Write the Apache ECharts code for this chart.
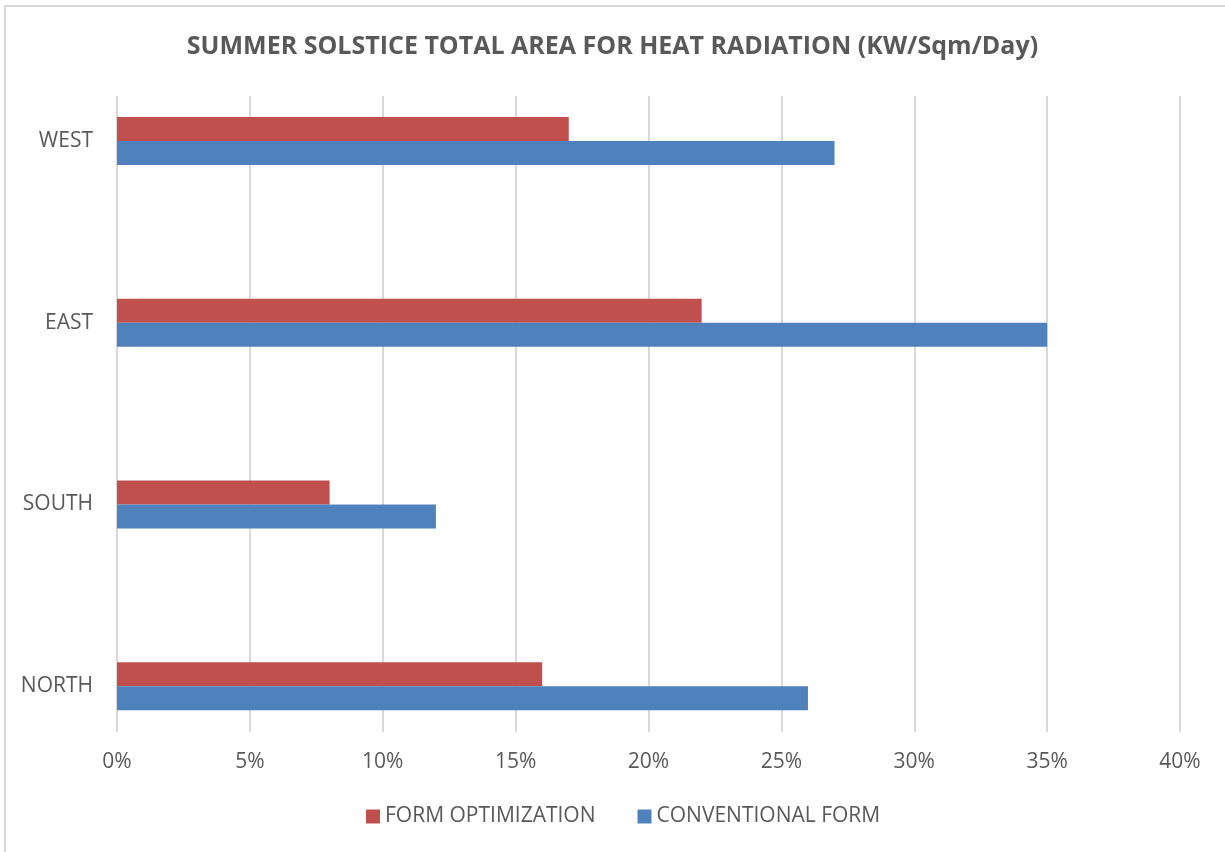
<!DOCTYPE html>
<html>
<head>
<meta charset="utf-8">
<script src="https://cdn.jsdelivr.net/npm/echarts@6/dist/echarts.min.js"></script>
<style>
  html, body { margin: 0; padding: 0; background: #fff; }
  #chart { width: 1225px; height: 852px; }
</style>
</head>
<body>
<div id="chart"></div>
<script>
// categories from bottom to top
const regions = ["NORTH", "SOUTH", "EAST", "WEST"];
const formOptimization = [16, 8, 22, 17];
const conventionalForm = [26, 12, 35, 27];
const tickMax = 40;
const tickStep = 5;

const textColor = "#595959";
const font = "Open Sans";

const myChart = echarts.init(document.getElementById("chart"));
const option = {
    animation: false,
    title: {
        text: "SUMMER SOLSTICE TOTAL AREA FOR HEAT RADIATION (KW/Sqm/Day)",
        left: "center",
        top: 29,
        textStyle: {
            fontFamily: font,
            fontWeight: "bold",
            fontSize: 25,
            color: textColor
        }
    },
    graphic: [{
        type: "rect",
        shape: { x: 5, y: 6, width: 1400, height: 1000 },
        style: { fill: "none", stroke: "#d9d9d9", lineWidth: 2 },
        silent: true
    }],
    legend: {
        data: ["FORM OPTIMIZATION", "CONVENTIONAL FORM"],
        top: 801,
        left: 361,
        itemWidth: 14,
        itemHeight: 14,
        itemGap: 42,
        icon: "rect",
        textStyle: { fontFamily: font, fontSize: 21, color: textColor, padding: [0, 0, 0, 0] }
    },
    // grid 0 carries the gridlines and tick labels, grid 1 the bars
    grid: [
        { left: 117, right: 45, top: 96, bottom: 120 },
        { left: 117, right: 45, top: 50, bottom: 75 }
    ],
    xAxis: [{
        gridIndex: 0,
        type: "value",
        min: 0,
        max: tickMax,
        interval: tickStep,
        axisLine: { show: false },
        axisTick: { show: false },
        splitLine: { lineStyle: { color: "#d9d9d9", width: 2 } },
        axisLabel: {
            formatter: "{value}%",
            margin: 20,
            fontFamily: font,
            fontSize: 21,
            color: textColor
        }
    }, {
        gridIndex: 1,
        type: "value",
        min: 0,
        max: tickMax,
        show: false
    }],
    yAxis: [{
        gridIndex: 0,
        type: "value",
        show: false
    }, {
        gridIndex: 1,
        type: "category",
        data: regions,
        axisLine: { show: false },
        axisTick: { show: false },
        axisLabel: {
            margin: 24,
            fontFamily: font,
            fontSize: 21,
            color: textColor
        }
    }],
    series: [
        {
            name: "FORM OPTIMIZATION",
            type: "bar",
            xAxisIndex: 1,
            yAxisIndex: 1,
            data: formOptimization,
            barWidth: 24,
            barGap: "0%",
            itemStyle: { color: "#C0504D" }
        },
        {
            name: "CONVENTIONAL FORM",
            type: "bar",
            xAxisIndex: 1,
            yAxisIndex: 1,
            data: conventionalForm,
            barWidth: 24,
            barGap: "0%",
            itemStyle: { color: "#4F81BD" }
        }
    ]
};
myChart.setOption(option);
</script>
</body>
</html>
